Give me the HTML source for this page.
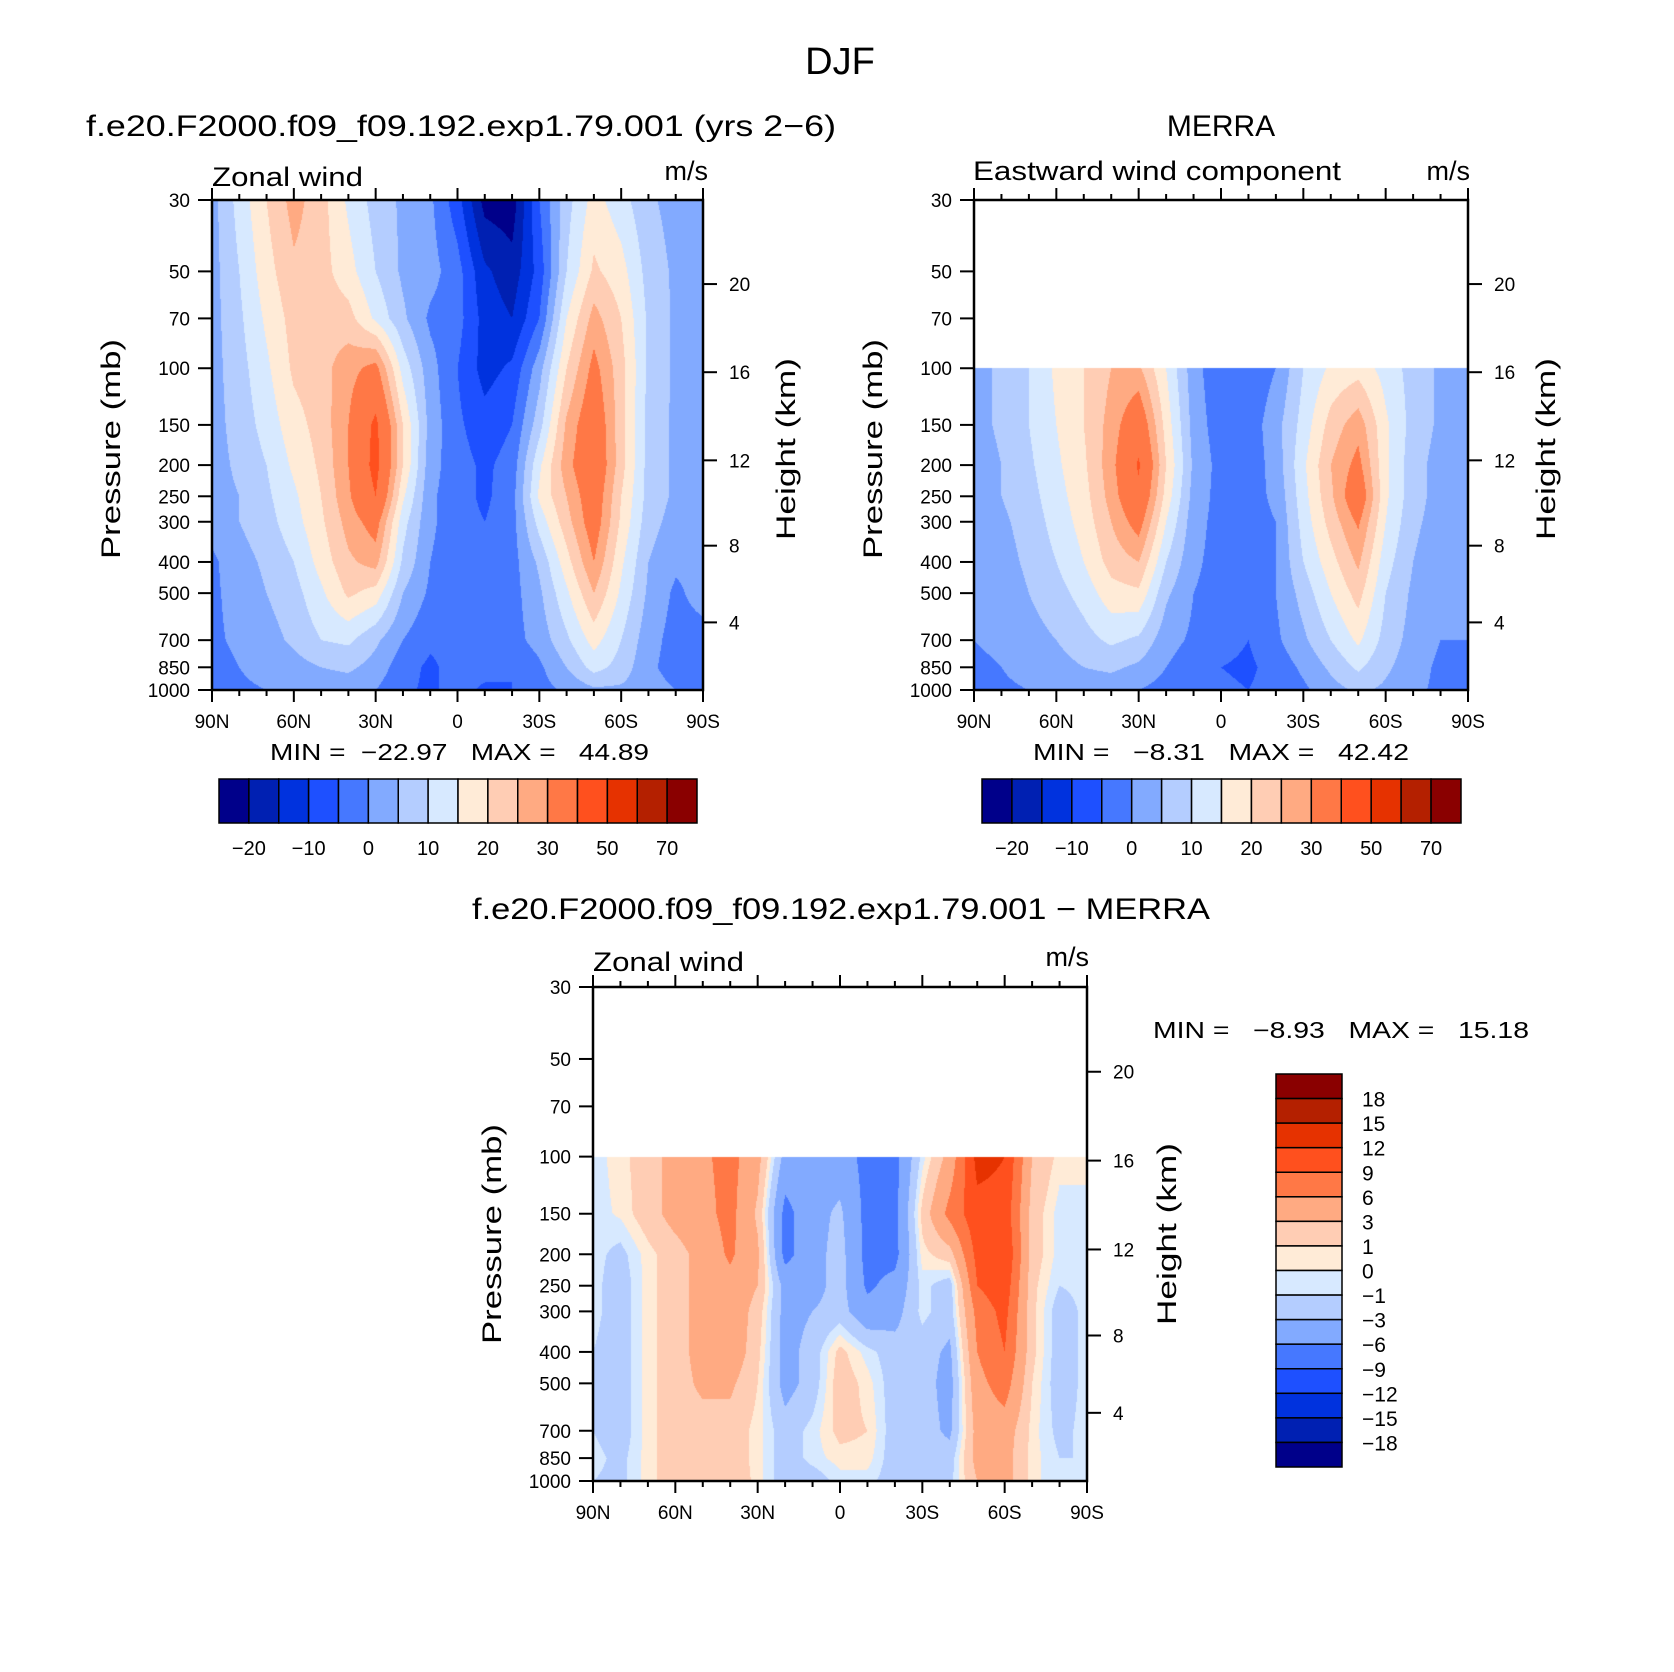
<!DOCTYPE html>
<html><head><meta charset="utf-8"><style>
body{margin:0;background:#fff;}
#wrap{position:relative;width:1674px;height:1672px;overflow:hidden;background:#fff;}
canvas{position:absolute;}
svg{position:absolute;left:0;top:0;}
text{font-family:"Liberation Sans",sans-serif;fill:#000;white-space:pre;}
</style></head><body>
<div id="wrap">
<canvas id="c1" width="491" height="490" style="left:212px;top:200px"></canvas>
<canvas id="c2" width="494" height="490" style="left:974px;top:200px"></canvas>
<canvas id="c3" width="494" height="494" style="left:593px;top:987px"></canvas>
<svg id="s" width="1674" height="1672"></svg>
</div>
<script>
// ---------- data ----------
const lats=[90,80,70,60,50,40,30,20,10,0,-10,-20,-30,-40,-50,-60,-70,-80,-90];
const levelsModel=[30,50,70,100,150,200,250,300,400,500,700,850,1000];
const levelsObs=[100,150,200,250,300,400,500,700,850,1000];
const pressureTicks=[30,50,70,100,150,200,250,300,400,500,700,850,1000];
const heightTicks=[4,8,12,16,20];
const latTickLabels=['90N','60N','30N','0','30S','60S','90S'];
const boundsAbs=[-20,-15,-10,-5,0,5,10,15,20,25,30,40,50,60,70];
const labelsAbs=['\u221220','\u221210','0','10','20','30','50','70'];
const boundsDiff=[-18,-15,-12,-9,-6,-3,-1,0,1,3,6,9,12,15,18];
const labelsDiff=['18','15','12','9','6','3','1','0','\u22121','\u22123','\u22126','\u22129','\u221212','\u221215','\u221218'];
const colors=['#00008a','#0020b2','#0032de','#1e50ff','#4678ff','#82aaff','#b4cdff','#d7e9ff','#ffebd7','#ffcdb4','#ffaa82','#ff7846','#ff501e','#e63200','#b42000','#8a0000'];
const modelU=[
[3,12,20,27,22,14,8,4,1,-8,-22,-23,-5,8,17,12,6,3,3],
[3,10,18,24,22,17,10,4,2,-3,-14,-18,-8,10,21,17,8,4,3],
[3,9,16,22,23,22,14,6,-1,-3,-12,-15,-5,15,27,20,9,4,3],
[3,8,14,21,23,28,32,13,2,-5,-12,-9,3,20,32,22,9,4,3],
[3,7,12,18,22,30,42,20,3,-4,-8,-5,8,26,36,22,8,4,3],
[3,6,10,16,21,30,43,20,2,-3,-6,-3,14,28,37,22,8,4,3],
[3,5,9,14,20,29,40,16,1,-3,-6,-2,16,25,35,20,8,4,3],
[2,5,8,13,19,27,33,12,1,-3,-5,-2,12,23,34,19,7,3,3],
[-1,3,6,10,17,24,27,9,0,-3,-3,-2,6,18,30,16,5,1,1],
[-1,2,5,8,14,21,18,5,-1,-3,-3,-2,4,14,25,14,4,-1,2],
[-1,1,3,6,10,11,6,0,-4,-3,-3,-2,2,9,17,10,2,-2,-2],
[-2,0,2,3,5,6,3,-3,-6,-3,-3,-5,-1,5,12,8,1,-2,-2],
[-2,-1,0,1,2,2,0,-4,-6,-3,-6,-5,-2,1,4,4,2,0,-2]];
const merraU=[
[3,6,10,16,20,25,26,15,2,-4,-4,0,10,16,18,13,8,4,3],
[3,6,10,15,20,27,36,18,3,-3,-3,3,12,22,28,16,8,4,3],
[2,5,9,14,19,28,41,20,4,-2,-3,2,14,25,32,16,7,3,3],
[2,5,8,13,18,27,38,18,3,-2,-2,1,13,24,36,16,7,3,3],
[2,4,7,12,17,25,33,15,2,-2,-2,0,12,22,31,15,6,3,2],
[1,3,6,10,15,22,25,10,1,-2,-2,0,10,18,26,12,5,2,1],
[0,2,5,8,12,18,19,6,0,-2,-2,0,7,15,22,10,4,1,1],
[0,1,3,5,8,11,9,2,-1,-3,-5,-1,4,10,16,8,3,0,0],
[-1,0,2,3,5,6,4,0,-3,-5,-6,-3,1,6,11,6,2,-1,-1],
[-2,-1,0,1,2,2,0,-2,-4,-4,-5,-3,-1,3,6,4,1,-1,-1]];
const diffU=[
[-0.5,0.5,2,4,5.5,7,4,-4,-4,-4.5,-7,-7,-0.5,4,13,12,3,0.5,0.5],
[-0.5,0.2,2,4,5,7,2.5,-7,-4,-2.5,-7,-7,1.5,7,11,11,2,-0.5,-0.5],
[-0.5,-1.5,0.5,2,4,6.5,3.5,-7,-4,-2,-7,-7,0.5,2,10,12,2,-0.5,-0.5],
[-0.5,-2,0.5,2,4,5,3,-4,-4,-2,-6.5,-5,-0.5,-2,9,11,1.5,-1,-0.5],
[-0.5,-2,0.5,2,4,5,2,-4,-3,-2,-5,-4,-0.5,-2,7,10,1.5,-2,-0.5],
[-1,-2,0.5,2,4,5,1.5,-4,-2,1.5,-0.5,-2,-2,-3.5,6,9,1.5,-2,-0.5],
[-1,-2,0.5,2,3.5,3.5,1,-4,-2,2,0.5,-2,-2,-4,5,7.5,1,-2,-0.5],
[-1,-2,0.5,2,2,2,0.5,-2,-0.5,1.5,1,-2,-2,-3.5,4,4.5,0.5,-1.5,-0.5],
[-0.5,-1.5,0.5,2,2.5,2,0.5,-2,-0.5,0.5,0.5,-2,-2,-2,4,4,0.5,-1,-1],
[-1,-1.5,0.5,2,3,2.5,0.5,-2,-2,-0.5,-0.5,-2,-3,-1.5,3,4,0.5,-1,-1]];

// ---------- helpers ----------
const L30=Math.log10(30),LR=Math.log10(1000)-L30;
function pFrac(p){return (Math.log10(p)-L30)/LR;}
function hexRGB(h){return [parseInt(h.substr(1,2),16),parseInt(h.substr(3,2),16),parseInt(h.substr(5,2),16)];}
const rgb=colors.map(hexRGB);
function binIdx(v,b){let i=0;while(i<b.length&&v>=b[i])i++;return i;}
function drawField(id,levels,grid,bounds){
  const c=document.getElementById(id),ctx=c.getContext('2d'),W=c.width,H=c.height;
  const img=ctx.createImageData(W,H),d=img.data;
  const ll=levels.map(p=>Math.log10(p));
  for(let y=0;y<H;y++){
    const lp=L30+(y+0.5)/H*LR;
    if(lp<ll[0]-1e-9)continue;
    let k=0;while(k<ll.length-2&&lp>ll[k+1])k++;
    const ty=Math.min(1,Math.max(0,(lp-ll[k])/(ll[k+1]-ll[k])));
    for(let x=0;x<W;x++){
      const fj=(x+0.5)/W*(lats.length-1);
      let j=Math.min(lats.length-2,Math.floor(fj));const tx=fj-j;
      const v=(grid[k][j]*(1-tx)+grid[k][j+1]*tx)*(1-ty)+(grid[k+1][j]*(1-tx)+grid[k+1][j+1]*tx)*ty;
      const col=rgb[binIdx(v,bounds)],o=(y*W+x)*4;
      d[o]=col[0];d[o+1]=col[1];d[o+2]=col[2];d[o+3]=255;
    }
  }
  ctx.putImageData(img,0,0);
}
drawField('c1',levelsModel,modelU,boundsAbs);
drawField('c2',levelsObs,merraU,boundsAbs);
drawField('c3',levelsObs,diffU,boundsDiff);

// ---------- annotations ----------
const NS='http://www.w3.org/2000/svg',S=document.getElementById('s');
function el(tag,attrs,txt){const e=document.createElementNS(NS,tag);for(const k in attrs)e.setAttribute(k,attrs[k]);if(txt!==undefined)e.textContent=txt;S.appendChild(e);return e;}
function stdP(z){z*=1000;return z<=11000?1013.25*Math.pow(1-2.25577e-5*z,5.25588):226.32*Math.exp(-(z-11000)/6341.6);}
function axes(x0,y0,w,h,tag){
  const f=el('rect',{x:x0,y:y0,width:w,height:h,fill:'none',stroke:'#000','stroke-width':2.5});
  
  for(let i=0;i<=18;i++){
    const x=x0+w*i/18,len=(i%3==0)?12:6;
    const t1=el('line',{x1:x,y1:y0+h,x2:x,y2:y0+h+len,stroke:'#000','stroke-width':2});
    
    const t2=el('line',{x1:x,y1:y0,x2:x,y2:y0-len,stroke:'#000','stroke-width':2});
    
    if(i%3==0){const t=el('text',{x:x,y:y0+h+38,'font-size':19,'text-anchor':'middle'},latTickLabels[i/3]);
      }
  }
  pressureTicks.forEach(p=>{
    const y=y0+pFrac(p)*h;
    const t=el('line',{x1:x0-14,y1:y,x2:x0,y2:y,stroke:'#000','stroke-width':2});
    
    const l=el('text',{x:x0-22,y:y+7,'font-size':19,'text-anchor':'end'},String(p));
    
  });
  heightTicks.forEach(z=>{
    const y=y0+pFrac(stdP(z))*h;
    const t=el('line',{x1:x0+w,y1:y,x2:x0+w+14,y2:y,stroke:'#000','stroke-width':2});
    
    const l=el('text',{x:x0+w+26,y:y+7,'font-size':19},String(z));
    
  });
}
function txt(name,x,y,size,s,opts){const a={x:x,y:y,'font-size':size};Object.assign(a,opts||{});const t=el('text',a,s);return t;}
function hbar(name,x0,y0,w,h,labels){
  const n=colors.length,bw=w/n;
  colors.forEach((c,i)=>{const r=el('rect',{x:x0+i*bw,y:y0,width:bw,height:h,fill:c,stroke:'#000','stroke-width':1.5});
    });
  labels.forEach((s,k)=>{const t=el('text',{x:x0+(2*k+1)*bw,y:y0+h+32,'font-size':20,'text-anchor':'middle'},s);
    });
}
axes(212,200,491,490,'model');
axes(974,200,494,490,'merra');
axes(593,987,494,494,'diff');

txt('figure-title',840,74,38,'DJF',{'text-anchor':'middle'});
txt('model-title',86,136,30,'f.e20.F2000.f09_f09.192.exp1.79.001 (yrs 2\u22126)',{textLength:750,lengthAdjust:'spacingAndGlyphs'});
txt('merra-title',1221,136,30,'MERRA',{'text-anchor':'middle'});
txt('diff-title',472,919,30,'f.e20.F2000.f09_f09.192.exp1.79.001 \u2212 MERRA',{textLength:738,lengthAdjust:'spacingAndGlyphs'});
txt('model-subtitle',212,186,27,'Zonal wind',{textLength:151,lengthAdjust:'spacingAndGlyphs'});
txt('model-units',708,180,27,'m/s',{'text-anchor':'end'});
txt('merra-subtitle',973,180,27,'Eastward wind component',{textLength:368,lengthAdjust:'spacingAndGlyphs'});
txt('merra-units',1470,180,27,'m/s',{'text-anchor':'end'});
txt('diff-subtitle',593,971,27,'Zonal wind',{textLength:151,lengthAdjust:'spacingAndGlyphs'});
txt('diff-units',1089,966,27,'m/s',{'text-anchor':'end'});
txt('model-minmax',270,760,23,'MIN =  \u221222.97   MAX =   44.89',{textLength:379,lengthAdjust:'spacingAndGlyphs'});
txt('merra-minmax',1033,760,23,'MIN =   \u22128.31   MAX =   42.42',{textLength:376,lengthAdjust:'spacingAndGlyphs'});
txt('diff-minmax',1153,1038,23,'MIN =   \u22128.93   MAX =   15.18',{textLength:376,lengthAdjust:'spacingAndGlyphs'});
function ytitle(name,x,y,s,len){txt(name,x,y,27,s,{'text-anchor':'middle',transform:'rotate(-90 '+x+' '+y+')',textLength:len,lengthAdjust:'spacingAndGlyphs'});}
ytitle('model-pressure-title',120,449,'Pressure (mb)',220);
ytitle('model-height-title',795,449,'Height (km)',182);
ytitle('merra-pressure-title',882,449,'Pressure (mb)',220);
ytitle('merra-height-title',1555,449,'Height (km)',182);
ytitle('diff-pressure-title',501,1234,'Pressure (mb)',220);
ytitle('diff-height-title',1176,1234,'Height (km)',182);

hbar('model-colorbar',219,779,478,44,labelsAbs);
hbar('merra-colorbar',982,779,479,44,labelsAbs);
(function(){const x0=1276,y0=1074,w=66,h=393,n=colors.length,bh=h/n;
  for(let i=0;i<n;i++){const r=el('rect',{x:x0,y:y0+i*bh,width:w,height:bh,fill:colors[n-1-i],stroke:'#000','stroke-width':1.5});
    }
  labelsDiff.forEach((s,k)=>{const t=el('text',{x:1362,y:y0+(k+1)*bh+8,'font-size':21},s);
    });
})();
</script>
</body></html>
